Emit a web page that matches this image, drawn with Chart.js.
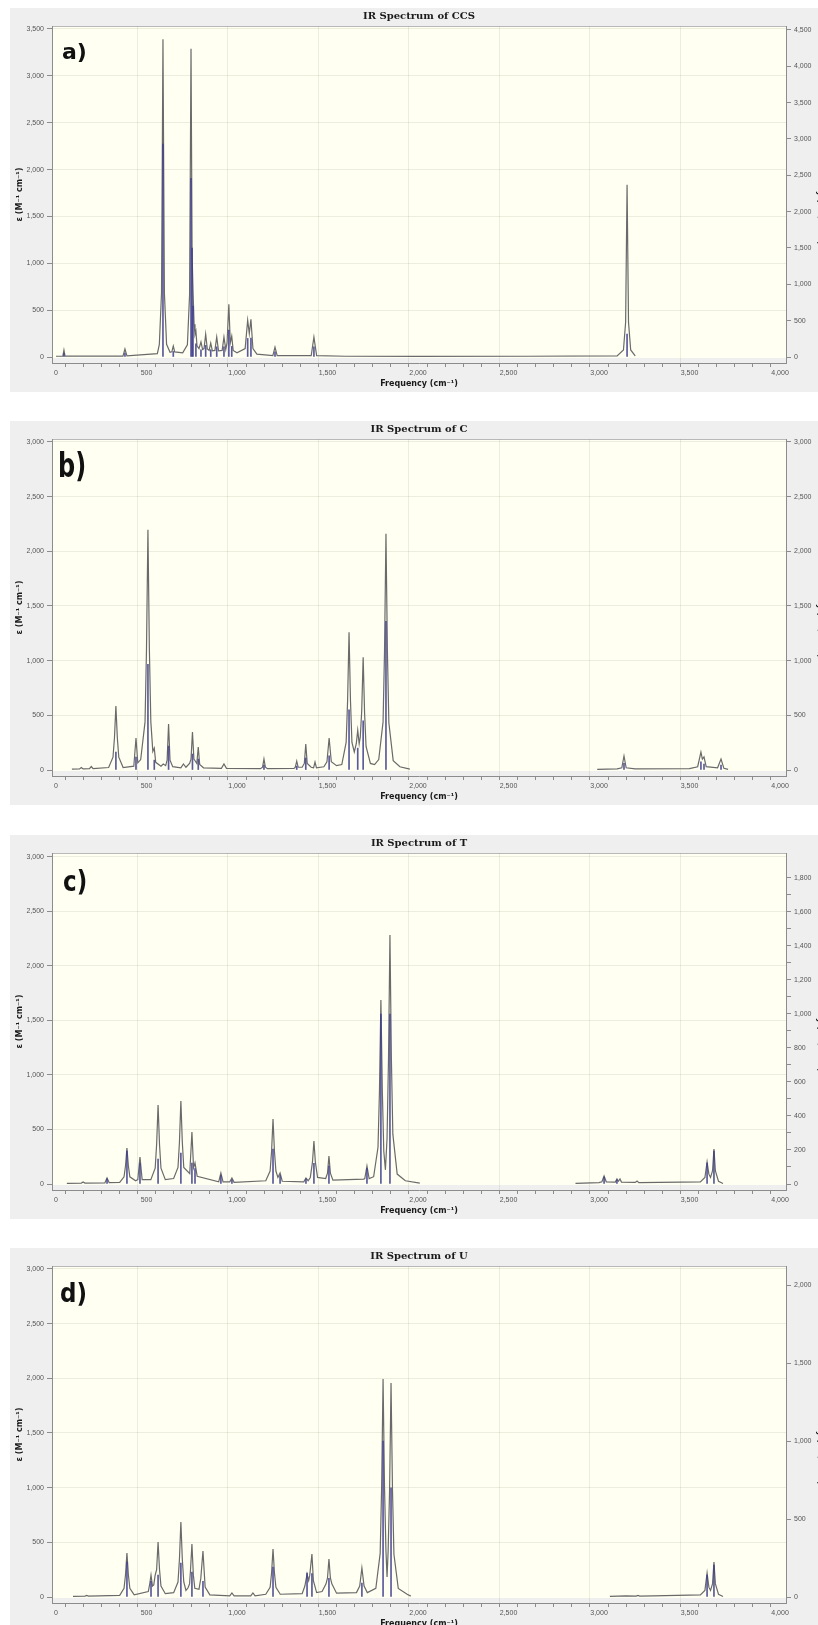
<!DOCTYPE html>
<html>
<head>
<meta charset="utf-8">
<title>IR Spectra</title>
<script src="https://cdn.jsdelivr.net/npm/chart.js@4.4.1/dist/chart.umd.min.js"></script>
<style>
  html, body { margin: 0; padding: 0; background: #fff; overflow: hidden; width: 818px; height: 1625px; }
  .panel { position: absolute; left: 10px; width: 818px; height: 384px; background: #efefef; }
  .panel canvas { position: absolute; left: 0; top: 0; }
  .tag { position: absolute; font-family: 'DejaVu Sans', sans-serif; font-weight: bold; color: #111;
         line-height: 1; transform-origin: 0 0; white-space: nowrap; z-index: 2; }
</style>
</head>
<body>
<div class="panel" style="top:8px"><canvas id="chartA" width="818" height="384"></canvas></div>
<div class="panel" style="top:421px"><canvas id="chartB" width="818" height="384"></canvas></div>
<div class="panel" style="top:835px"><canvas id="chartC" width="818" height="384"></canvas></div>
<div class="panel" style="top:1248px"><canvas id="chartD" width="818" height="384"></canvas></div>

<div class="tag" style="left:62px; top:41px; font-size:22px;">a)</div>
<div class="tag" style="left:58px; top:449px; font-size:24px; transform:scale(1,1.4);">b)</div>
<div class="tag" style="left:63px; top:868px; font-size:23px; transform:scale(1,1.2);">c)</div>
<div class="tag" style="left:60px; top:1280px; font-size:23px; transform:scale(1,1.15);">d)</div>

<script>
// x axis (frequency, cm-1)
const xMajor = [0, 500, 1000, 1500, 2000, 2500, 3000, 3500, 4000];
const xMinorStep = 100;
const xMin = -22;
const xMax = 4033;

// ---- a) CCS ----
const freqA = [0, 38, 44, 50, 370, 381, 392, 560, 571, 583, 591, 599, 611, 630, 640, 648, 656,
  700, 726, 738, 746, 752, 757, 763, 768, 773, 779, 790, 801, 810, 818, 827, 836, 846, 855, 864,
  878, 888, 898, 918, 928, 938, 945, 955, 963, 971, 979, 1000, 1045, 1059, 1068, 1077, 1088, 1110,
  1198, 1210, 1222, 1410, 1425, 1440, 1600, 2000, 2600, 3100, 3135, 3147, 3155, 3163, 3175, 3200];
const epsA = [8, 10, 74, 10, 10, 85, 12, 35, 135, 680, 3390, 680, 135, 50, 55, 117, 55,
  45, 130, 660, 3290, 1100, 710, 350, 240, 276, 120, 90, 160, 80, 90, 244, 85, 70, 149, 65,
  70, 212, 65, 70, 212, 80, 150, 563, 150, 223, 70, 45, 90, 393, 250, 403, 90, 30,
  15, 106, 15, 15, 212, 15, 8, 6, 8, 12, 75, 370, 1837, 370, 75, 12];
const stickFreqA = [44, 381, 591, 648, 746, 752, 757, 773, 801, 827, 855, 888, 928, 955, 971, 1059, 1077, 1210, 1425, 3155];
const stickIntA = [48, 55, 2930, 76, 2460, 1500, 700, 180, 100, 160, 100, 140, 140, 370, 145, 255, 262, 70, 140, 316];
const leftTicksA = [0, 500, 1000, 1500, 2000, 2500, 3000, 3500];
const rightTicksA = [0, 500, 1000, 1500, 2000, 2500, 3000, 3500, 4000, 4500];

// ---- b) C ----
const freqB = [88, 130, 140, 150, 185, 195, 205, 291, 315, 323, 331, 339, 347, 371, 430, 442, 452, 468,
  492, 500, 508, 516, 524, 535, 543, 551, 580, 593, 606, 614, 622, 630, 645, 690, 704, 718,
  738, 746, 754, 762, 770, 778, 786, 794, 815, 914, 928, 942, 1130, 1141, 1149, 1157, 1168,
  1315, 1322, 1330, 1338, 1360, 1372, 1380, 1388, 1410, 1423, 1431, 1439, 1480, 1497, 1509, 1521, 1550,
  1579, 1603, 1611, 1619, 1627, 1635, 1648, 1659, 1667, 1675, 1681, 1689, 1697, 1705, 1713, 1737, 1760,
  1783, 1807, 1815, 1823, 1831, 1839, 1863, 1900, 1955, 1956, 2990, 3100, 3126, 3138, 3150, 3200,
  3500, 3545, 3563, 3571, 3580, 3592, 3655, 3674, 3690, 3713];
const epsB = [8, 10, 22, 10, 12, 32, 12, 23, 117, 292, 584, 292, 117, 23, 35, 292, 65, 95,
  440, 1099, 2198, 1099, 440, 170, 200, 70, 35, 55, 40, 90, 420, 90, 30, 20, 55, 25,
  60, 100, 347, 100, 80, 60, 210, 50, 20, 15, 55, 15, 12, 25, 100, 25, 12,
  15, 25, 82, 25, 25, 60, 237, 60, 25, 20, 73, 20, 30, 75, 292, 75, 40,
  50, 252, 630, 1259, 630, 252, 165, 240, 365, 240, 300, 540, 1031, 515, 215, 60, 50,
  95, 440, 1080, 2161, 1080, 432, 86, 30, 8, null, 5, 10, 20, 128, 20, 10,
  12, 30, 164, 100, 119, 30, 20, 100, 15, 5];
const stickFreqB = [331, 442, 508, 543, 622, 754, 786, 1149, 1330, 1380, 1509, 1619, 1667, 1697, 1823, 3138, 3563, 3580, 3674];
const stickIntB = [164, 119, 967, 90, 219, 146, 100, 45, 35, 110, 130, 550, 200, 450, 1359, 60, 75, 55, 45];
const leftTicksB = [0, 500, 1000, 1500, 2000, 2500, 3000];
const rightTicksB = [0, 500, 1000, 1500, 2000, 2500, 3000];

// ---- c) T ----
const freqC = [60, 140, 150, 160, 270, 282, 294, 352, 376, 384, 392, 400, 408, 440, 452, 464, 476,
  524, 548, 556, 564, 572, 580, 604, 650, 674, 682, 690, 698, 706, 739, 751, 760, 768, 780,
  899, 911, 923, 960, 972, 984, 1159, 1183, 1191, 1199, 1207, 1215, 1226, 1238, 1250,
  1369, 1381, 1393, 1405, 1417, 1425, 1433, 1445, 1490, 1500, 1508, 1516, 1530, 1700, 1706, 1718, 1730,
  1755, 1779, 1787, 1795, 1803, 1811, 1820, 1829, 1837, 1845, 1853, 1861, 1885, 1930, 2010, 2011,
  2870, 3000, 3016, 3028, 3040, 3090, 3099, 3107, 3116, 3124, 3200, 3210, 3220,
  3560, 3585, 3597, 3607, 3616, 3627, 3635, 3643, 3660, 3685];
const epsC = [5, 8, 18, 8, 10, 55, 12, 15, 66, 165, 330, 165, 66, 30, 40, 248, 40,
  40, 145, 362, 724, 362, 145, 40, 50, 152, 380, 761, 380, 152, 95, 477, 150, 193, 70,
  20, 101, 20, 20, 55, 15, 30, 119, 298, 596, 298, 119, 60, 101, 25,
  20, 55, 30, 60, 200, 394, 200, 60, 50, 100, 257, 100, 35, 45, 50, 165, 50,
  67, 337, 843, 1687, 843, 300, 130, 420, 1141, 2283, 1141, 457, 91, 30, 8, null,
  5, 12, 20, 73, 20, 18, 46, 25, 46, 18, 15, 27, 12,
  20, 60, 202, 90, 60, 120, 321, 120, 25, 5];
const stickFreqC = [282, 392, 464, 564, 690, 751, 768, 911, 972, 1199, 1238, 1381, 1425, 1508, 1718, 1795, 1845, 3028, 3099, 3597, 3635];
const stickIntC = [30, 194, 120, 147, 182, 123, 90, 50, 25, 206, 50, 30, 122, 106, 90, 1000, 1000, 40, 25, 123, 194];
const leftTicksC = [0, 500, 1000, 1500, 2000, 2500, 3000];
const rightTicksC = [0, 200, 400, 600, 800, 1000, 1200, 1400, 1600, 1800];

// ---- d) U ----
const freqD = [94, 160, 170, 180, 352, 376, 384, 392, 400, 408, 432,
  510, 517, 525, 533, 540, 548, 556, 564, 572, 580, 604, 650, 674, 682, 690, 698, 706,
  718, 729, 738, 743, 751, 759, 767, 790, 800, 812, 824, 850, 960, 972, 984, 1076, 1088, 1100,
  1159, 1183, 1191, 1199, 1207, 1215, 1239, 1360, 1375, 1387, 1396, 1402, 1414, 1422, 1440,
  1470, 1492, 1500, 1508, 1516, 1524, 1550, 1660, 1678, 1690, 1702, 1720,
  1767, 1791, 1799, 1807, 1815, 1823, 1829, 1835, 1843, 1851, 1859, 1867, 1891, 1940, 1960, 1961,
  3060, 3150, 3205, 3215, 3225, 3300, 3560, 3585, 3597, 3607, 3616, 3627, 3635, 3643, 3660, 3685];
const epsD = [5, 8, 15, 8, 15, 80, 201, 402, 201, 80, 20,
  50, 110, 201, 100, 110, 200, 250, 503, 250, 100, 30, 40, 137, 343, 686, 343, 137,
  60, 82, 120, 240, 485, 200, 80, 70, 170, 421, 90, 20, 10, 37, 10, 10, 37, 10,
  25, 88, 220, 439, 220, 88, 25, 30, 100, 210, 150, 200, 393, 150, 40,
  50, 120, 174, 348, 174, 120, 35, 40, 100, 265, 100, 40,
  80, 399, 997, 1994, 997, 420, 183, 420, 979, 1957, 979, 391, 78, 25, 8, null,
  5, 10, 8, 15, 8, 10, 20, 60, 219, 90, 60, 120, 320, 120, 25, 5];
const stickFreqD = [392, 525, 564, 690, 751, 812, 1199, 1387, 1414, 1508, 1690, 1807, 1851, 3597, 3635];
const stickIntD = [224, 100, 141, 218, 160, 100, 192, 154, 150, 120, 90, 1000, 700, 141, 205];
const leftTicksD = [0, 500, 1000, 1500, 2000, 2500, 3000];
const rightTicksD = [0, 500, 1000, 1500, 2000];

const panels = [
  { id: 'chartA', title: 'IR Spectrum of CCS', freq: freqA, eps: epsA, stickFreq: stickFreqA, stickInt: stickIntA,
    leftMax: 3532, rightMax: 4555, leftTicks: leftTicksA, rightTicks: rightTicksA },
  { id: 'chartB', title: 'IR Spectrum of C', freq: freqB, eps: epsB, stickFreq: stickFreqB, stickInt: stickIntB,
    leftMax: 3027, rightMax: 3027, leftTicks: leftTicksB, rightTicks: rightTicksB },
  { id: 'chartC', title: 'IR Spectrum of T', freq: freqC, eps: epsC, stickFreq: stickFreqC, stickInt: stickIntC,
    leftMax: 3036, rightMax: 1947, leftTicks: leftTicksC, rightTicks: rightTicksC, rightMinor: 100 },
  { id: 'chartD', title: 'IR Spectrum of U', freq: freqD, eps: epsD, stickFreq: stickFreqD, stickInt: stickIntD,
    leftMax: 3027, rightMax: 2122, leftTicks: leftTicksD, rightTicks: rightTicksD },
];

const colors = {
  line: '#6a6a6a',
  stick: 'rgba(60, 60, 140, 0.85)',
  cream: '#fffff2',
  grid: 'rgba(140, 140, 110, 0.16)',
  axis: '#8c8c8c',
  tick: '#555',
  text: '#1a1a1a',
};

// zero sits 6px above the frequency axis line (plot height 337px)
const ZERO_GAP = 6 / 331;

Chart.defaults.font.family = "'Liberation Sans', Arial, sans-serif";

const plotBackground = {
  id: 'plotBackground',
  beforeDraw(chart) {
    const { ctx, chartArea } = chart;
    const zeroY = chart.scales.y.getPixelForValue(0);
    ctx.save();
    ctx.fillStyle = colors.cream;
    ctx.fillRect(chartArea.left, chartArea.top, chartArea.right - chartArea.left, zeroY - chartArea.top + 1);
    ctx.strokeStyle = '#b8b8b8';
    ctx.lineWidth = 1;
    ctx.beginPath();
    ctx.moveTo(chartArea.left, chartArea.top + 0.5);
    ctx.lineTo(chartArea.right, chartArea.top + 0.5);
    ctx.stroke();
    ctx.restore();
  },
};

function points(xs, ys) {
  const n = Math.min(xs.length, ys.length);
  const out = [];
  for (let i = 0; i < n; i++) out.push({ x: xs[i], y: ys[i] });
  return out;
}

function tickList(values) {
  return values.map((v) => ({ value: v }));
}

function withMinor(major, step) {
  if (!step) return major;
  const out = [];
  for (let v = major[0]; v <= major[major.length - 1]; v += step) out.push(v);
  return out;
}

const xTickValues = withMinor(xMajor, xMinorStep);

function renderPanel(p) {
  const ctx = document.getElementById(p.id).getContext('2d');
  const rightValues = withMinor(p.rightTicks, p.rightMinor);

  return new Chart(ctx, {
    type: 'line',
    data: {
      datasets: [
        {
          type: 'bar',
          label: 'IR intensity',
          data: points(p.stickFreq, p.stickInt),
          yAxisID: 'y2',
          backgroundColor: colors.stick,
          barThickness: 1,
          order: 0,
        },
        {
          type: 'line',
          label: 'epsilon',
          data: points(p.freq, p.eps),
          yAxisID: 'y',
          borderColor: colors.line,
          borderWidth: 1.2,
          pointRadius: 0,
          tension: 0,
          spanGaps: false,
          order: 1,
        },
      ],
    },
    options: {
      responsive: false,
      animation: false,
      devicePixelRatio: 1,
      layout: { padding: 0 },
      plugins: {
        legend: { display: false },
        tooltip: { enabled: false },
        title: {
          display: true,
          text: p.title,
          color: colors.text,
          font: { family: "'DejaVu Serif', serif", size: 10, weight: 'bold', lineHeight: 1.2 },
          padding: { top: 2, bottom: 4 },
        },
      },
      scales: {
        x: {
          type: 'linear',
          min: xMin,
          max: xMax,
          offset: false,
          afterFit: (s) => { s.height = 29; },
          afterBuildTicks: (s) => { s.ticks = tickList(xTickValues); },
          ticks: {
            autoSkip: false,
            maxRotation: 0,
            padding: 2,
            color: colors.tick,
            font: { size: 7 },
            callback: (v) => (xMajor.includes(v) ? v.toLocaleString('en-US') : ''),
          },
          grid: {
            color: (c) => (c.tick && c.tick.value % 500 === 0 && c.tick.value > 0 && c.tick.value < 4000 ? colors.grid : 'transparent'),
            tickColor: colors.axis,
            tickLength: 4,
          },
          border: { color: colors.axis },
          title: {
            display: true,
            text: 'Frequency (cm⁻¹)',
            color: colors.text,
            font: { family: "'DejaVu Sans', sans-serif", size: 8, weight: 'bold' },
            padding: { top: 0, bottom: 3 },
          },
        },
        y: {
          position: 'left',
          min: -p.leftMax * ZERO_GAP,
          max: p.leftMax,
          afterFit: (s) => { s.width = 42; },
          afterBuildTicks: (s) => { s.ticks = tickList(p.leftTicks); },
          ticks: {
            padding: 3,
            color: colors.tick,
            font: { size: 7 },
            callback: (v) => v.toLocaleString('en-US'),
          },
          grid: {
            color: (c) => (c.tick && c.tick.value > 0 ? colors.grid : 'transparent'),
            tickColor: colors.axis,
            tickLength: 5,
          },
          border: { color: colors.axis },
          title: {
            display: true,
            text: 'ε (M⁻¹ cm⁻¹)',
            color: colors.text,
            font: { family: "'DejaVu Sans', sans-serif", size: 8, weight: 'bold' },
            padding: { top: 5, bottom: 0 },
          },
        },
        y2: {
          position: 'right',
          min: -p.rightMax * ZERO_GAP,
          max: p.rightMax,
          afterFit: (s) => { s.width = 42; },
          afterBuildTicks: (s) => { s.ticks = tickList(rightValues); },
          ticks: {
            autoSkip: false,
            padding: 3,
            color: colors.tick,
            font: { size: 7 },
            callback: (v) => (p.rightTicks.includes(v) ? v.toLocaleString('en-US') : ''),
          },
          grid: {
            drawOnChartArea: false,
            tickColor: colors.axis,
            tickLength: 5,
          },
          border: { color: colors.axis },
          title: {
            display: true,
            text: 'IR Intensity (KM/Mole)',
            color: colors.text,
            font: { family: "'DejaVu Sans', sans-serif", size: 8, weight: 'bold' },
            padding: { top: 3, bottom: 0 },
          },
        },
      },
    },
    plugins: [plotBackground],
  });
}

panels.forEach(renderPanel);
</script>
</body>
</html>
